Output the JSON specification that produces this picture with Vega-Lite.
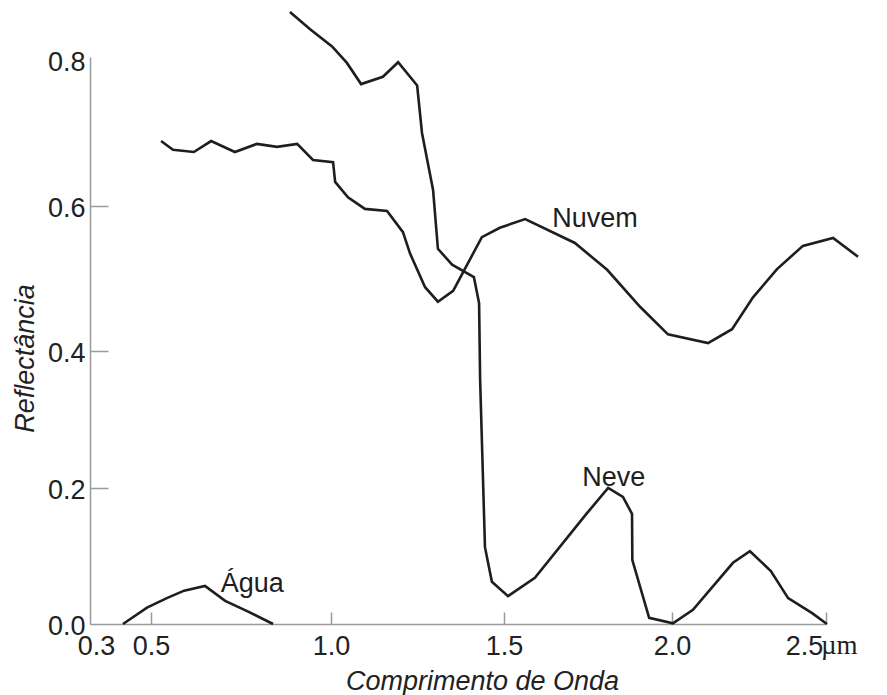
{
  "$schema": "https://vega.github.io/schema/vega-lite/v6.json",
  "width": 736,
  "height": 567,
  "autosize": "none",
  "padding": {"left": 90, "top": 57, "right": 61, "bottom": 71},
  "background": "white",
  "config": {"view": {"stroke": null}, "font": "Liberation Sans"},
  "datasets": {
    "curves": [
      {"series": "Nuvem", "i": 1, "x": 0.528, "y": 0.689},
      {"series": "Nuvem", "i": 2, "x": 0.561, "y": 0.677},
      {"series": "Nuvem", "i": 3, "x": 0.619, "y": 0.674},
      {"series": "Nuvem", "i": 4, "x": 0.667, "y": 0.689},
      {"series": "Nuvem", "i": 5, "x": 0.733, "y": 0.674},
      {"series": "Nuvem", "i": 6, "x": 0.794, "y": 0.685},
      {"series": "Nuvem", "i": 7, "x": 0.85, "y": 0.681},
      {"series": "Nuvem", "i": 8, "x": 0.906, "y": 0.685},
      {"series": "Nuvem", "i": 9, "x": 0.95, "y": 0.663},
      {"series": "Nuvem", "i": 10, "x": 1.006, "y": 0.66},
      {"series": "Nuvem", "i": 11, "x": 1.012, "y": 0.633},
      {"series": "Nuvem", "i": 12, "x": 1.049, "y": 0.612},
      {"series": "Nuvem", "i": 13, "x": 1.098, "y": 0.596},
      {"series": "Nuvem", "i": 14, "x": 1.162, "y": 0.593},
      {"series": "Nuvem", "i": 15, "x": 1.208, "y": 0.564},
      {"series": "Nuvem", "i": 16, "x": 1.228, "y": 0.535},
      {"series": "Nuvem", "i": 17, "x": 1.272, "y": 0.488},
      {"series": "Nuvem", "i": 18, "x": 1.309, "y": 0.468},
      {"series": "Nuvem", "i": 19, "x": 1.353, "y": 0.483},
      {"series": "Nuvem", "i": 20, "x": 1.436, "y": 0.557},
      {"series": "Nuvem", "i": 21, "x": 1.488, "y": 0.57},
      {"series": "Nuvem", "i": 22, "x": 1.563, "y": 0.582},
      {"series": "Nuvem", "i": 23, "x": 1.711, "y": 0.549},
      {"series": "Nuvem", "i": 24, "x": 1.807, "y": 0.512},
      {"series": "Nuvem", "i": 25, "x": 1.905, "y": 0.461},
      {"series": "Nuvem", "i": 26, "x": 1.988, "y": 0.423},
      {"series": "Nuvem", "i": 27, "x": 2.117, "y": 0.411},
      {"series": "Nuvem", "i": 28, "x": 2.195, "y": 0.43},
      {"series": "Nuvem", "i": 29, "x": 2.263, "y": 0.474},
      {"series": "Nuvem", "i": 30, "x": 2.341, "y": 0.513},
      {"series": "Nuvem", "i": 31, "x": 2.425, "y": 0.545},
      {"series": "Nuvem", "i": 32, "x": 2.523, "y": 0.556},
      {"series": "Nuvem", "i": 33, "x": 2.604, "y": 0.53},
      {"series": "Neve", "i": 1, "x": 0.886, "y": 0.864},
      {"series": "Neve", "i": 2, "x": 0.942, "y": 0.841},
      {"series": "Neve", "i": 3, "x": 1.003, "y": 0.818},
      {"series": "Neve", "i": 4, "x": 1.046, "y": 0.796},
      {"series": "Neve", "i": 5, "x": 1.087, "y": 0.767},
      {"series": "Neve", "i": 6, "x": 1.15, "y": 0.777},
      {"series": "Neve", "i": 7, "x": 1.194, "y": 0.797},
      {"series": "Neve", "i": 8, "x": 1.249, "y": 0.765},
      {"series": "Neve", "i": 9, "x": 1.263, "y": 0.7},
      {"series": "Neve", "i": 10, "x": 1.295, "y": 0.622},
      {"series": "Neve", "i": 11, "x": 1.309, "y": 0.541},
      {"series": "Neve", "i": 12, "x": 1.35, "y": 0.519},
      {"series": "Neve", "i": 13, "x": 1.413, "y": 0.502},
      {"series": "Neve", "i": 14, "x": 1.428, "y": 0.466},
      {"series": "Neve", "i": 15, "x": 1.431, "y": 0.358},
      {"series": "Neve", "i": 16, "x": 1.445, "y": 0.113},
      {"series": "Neve", "i": 17, "x": 1.465, "y": 0.062},
      {"series": "Neve", "i": 18, "x": 1.512, "y": 0.041},
      {"series": "Neve", "i": 19, "x": 1.592, "y": 0.068},
      {"series": "Neve", "i": 20, "x": 1.747, "y": 0.163},
      {"series": "Neve", "i": 21, "x": 1.81, "y": 0.2},
      {"series": "Neve", "i": 22, "x": 1.854, "y": 0.187},
      {"series": "Neve", "i": 23, "x": 1.881, "y": 0.162},
      {"series": "Neve", "i": 24, "x": 1.882, "y": 0.094},
      {"series": "Neve", "i": 25, "x": 1.932, "y": 0.009},
      {"series": "Neve", "i": 26, "x": 2.003, "y": 0.001},
      {"series": "Neve", "i": 27, "x": 2.068, "y": 0.021},
      {"series": "Neve", "i": 28, "x": 2.198, "y": 0.09},
      {"series": "Neve", "i": 29, "x": 2.253, "y": 0.107},
      {"series": "Neve", "i": 30, "x": 2.321, "y": 0.078},
      {"series": "Neve", "i": 31, "x": 2.377, "y": 0.038},
      {"series": "Neve", "i": 32, "x": 2.455, "y": 0.016},
      {"series": "Neve", "i": 33, "x": 2.503, "y": 0.0},
      {"series": "Água", "i": 1, "x": 0.408, "y": 0.0},
      {"series": "Água", "i": 2, "x": 0.487, "y": 0.024},
      {"series": "Água", "i": 3, "x": 0.544, "y": 0.038},
      {"series": "Água", "i": 4, "x": 0.592, "y": 0.049},
      {"series": "Água", "i": 5, "x": 0.65, "y": 0.056},
      {"series": "Água", "i": 6, "x": 0.706, "y": 0.034},
      {"series": "Água", "i": 7, "x": 0.767, "y": 0.019},
      {"series": "Água", "i": 8, "x": 0.839, "y": 0.0}
    ],
    "labels": [
      {"series": "Nuvem", "x": 1.771, "y": 0.571},
      {"series": "Neve", "x": 1.827, "y": 0.203},
      {"series": "Água", "x": 0.781, "y": 0.047}
    ],
    "unit": [
      {"text": "µm", "x": 2.5, "y": 0.0}
    ]
  },
  "encoding": {
    "x": {
      "field": "x",
      "type": "quantitative",
      "scale": {"domain": [0.3, 0.5, 1.0, 1.5, 2.0, 2.5], "range": [0, 61, 241, 414, 582, 736], "nice": false, "zero": false},
      "axis": {
        "values": [0.3, 0.5, 1.0, 1.5, 2.0, 2.5],
        "format": ".1f",
        "grid": false,
        "domainColor": "#9a9a9a",
        "domainWidth": 1.5,
        "tickColor": "#9a9a9a",
        "tickWidth": 1.5,
        "tickSize": -12,
        "tickOpacity": {"condition": {"test": "datum.value < 0.4", "value": 0}, "value": 1},
        "labelPadding": 42,
        "labelBaseline": "alphabetic",
        "labelAlign": "center",
        "labelFlush": false,
        "labelOverlap": false,
        "labelFontSize": 27,
        "labelColor": "#222222",
        "labelOffset": {"condition": [{"test": "datum.value < 0.4", "value": 6}, {"test": "datum.value > 2.4", "value": -22}], "value": 0},
        "title": "Comprimento de Onda",
        "titleFontSize": 27,
        "titleFontStyle": "italic",
        "titleFontWeight": "normal",
        "titleColor": "#222222",
        "titleAlign": "center",
        "titleBaseline": "alphabetic",
        "titleX": 392,
        "titleY": 65
      }
    },
    "y": {
      "field": "y",
      "type": "quantitative",
      "scale": {"domain": [0, 0.2, 0.4, 0.6, 0.8, 0.804], "range": [567, 431, 294, 149, 3, 0], "nice": false, "zero": false},
      "axis": {
        "values": [0, 0.2, 0.4, 0.6, 0.8],
        "format": ".1f",
        "grid": false,
        "domainColor": "#9a9a9a",
        "domainWidth": 1.5,
        "tickColor": "#9a9a9a",
        "tickWidth": 1.5,
        "tickSize": -18,
        "tickOpacity": {"condition": {"test": "datum.value > 0.75 || datum.value < 0.05", "value": 0}, "value": 1},
        "labelPadding": 23,
        "labelAlign": "right",
        "labelBaseline": "middle",
        "labelOffset": 2,
        "labelFlush": false,
        "labelOverlap": false,
        "labelFontSize": 27,
        "labelColor": "#222222",
        "title": "Reflectância",
        "titleFontSize": 27,
        "titleFontStyle": "italic",
        "titleFontWeight": "normal",
        "titleColor": "#222222",
        "titleAngle": -90,
        "titleAlign": "center",
        "titleBaseline": "alphabetic",
        "titleX": -57,
        "titleY": 301
      }
    }
  },
  "layer": [
    {
      "data": {"name": "curves"},
      "mark": {"type": "line", "color": "#1e1e1e", "strokeWidth": 2.6},
      "encoding": {
        "detail": {"field": "series", "type": "nominal"},
        "order": {"field": "i", "type": "quantitative"}
      }
    },
    {
      "data": {"name": "labels"},
      "mark": {"type": "text", "fontSize": 27, "align": "center", "baseline": "alphabetic", "color": "#1e1e1e"},
      "encoding": {"text": {"field": "series", "type": "nominal"}}
    },
    {
      "data": {"name": "unit"},
      "mark": {"type": "text", "font": "Liberation Serif", "fontSize": 27, "align": "left", "baseline": "alphabetic", "dx": -5, "dy": 30, "color": "#1e1e1e"},
      "encoding": {"text": {"field": "text", "type": "nominal"}}
    }
  ]
}
